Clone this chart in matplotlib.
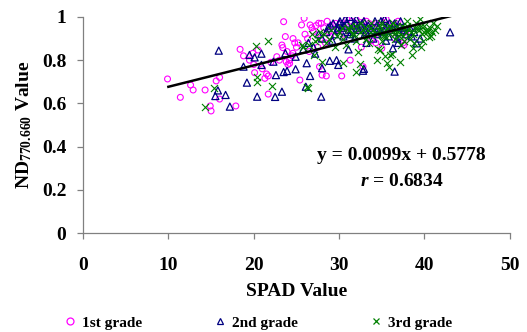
import matplotlib.pyplot as plt
from matplotlib.lines import Line2D

# SPAD (x) vs ND770.660 (y)
grade1_x = [9.9, 11.4, 12.6, 12.9, 14.3, 14.9, 15.0, 15.6, 16.0, 16.0, 17.9, 18.4, 18.8,
            19.9, 20.1, 20.5, 21.3, 21.5, 21.7, 21.7, 22.7, 23.3, 23.4, 23.5, 23.7, 23.8,
            24.2, 24.6, 24.6, 25.4, 25.6, 25.9, 26.6, 27.0, 27.6, 27.7, 28.0, 28.5, 30.3,
            31.3, 32.6, 32.6, 32.8, 35.2, 35.0, 37.6,
            28.2, 28.8, 29.3, 29.8, 30.2, 30.6, 31.0, 31.5, 32.0, 32.4, 33.0, 33.5, 34.0,
            34.6, 35.0, 35.5, 36.0, 36.6, 37.2, 37.8, 27.8, 28.4, 29.0, 26.8, 27.3, 26.0,
            25.2, 24.2, 24.0, 24.5, 22.0, 23.0, 19.5, 20.0, 21.0, 26.5, 27.5, 33.8, 34.3,
            36.5, 37.5, 27.9, 28.6, 29.6, 30.9, 31.9, 33.2, 34.4, 35.8, 36.9, 26.3, 25.0,
            23.9, 24.8]
grade1_y = [0.713, 0.628, 0.685, 0.662, 0.662, 0.588, 0.565, 0.704, 0.72, 0.62, 0.588, 0.85,
            0.82, 0.832, 0.742, 0.847, 0.716, 0.736, 0.727, 0.643, 0.816, 0.87, 0.858, 0.978,
            0.909, 0.793, 0.785, 0.832, 0.90, 0.708, 0.963, 0.994, 0.963, 0.932, 0.971, 0.77,
            0.731, 0.727, 0.727, 0.80, 1.0, 0.86, 0.77, 1.0, 0.855, 0.87,
            0.95, 0.93, 0.96, 0.94, 0.97, 0.92, 0.95, 0.98, 0.94, 0.96, 0.93, 0.97, 0.95,
            0.92, 0.96, 0.99, 0.94, 0.97, 0.95, 0.93, 0.90, 0.88, 0.91, 0.95, 0.96, 0.92,
            0.88, 0.80, 0.78, 0.82, 0.79, 0.80, 0.80, 0.78, 0.76, 0.84, 0.86, 0.89, 0.88,
            0.90, 0.88, 0.97, 0.98, 0.97, 0.99, 0.97, 0.98, 0.97, 0.96, 0.98, 0.90, 0.86,
            0.84, 0.88]

grade2_x = [15.9, 15.5, 15.8, 16.7, 17.2, 18.8, 19.2, 19.5, 20.1, 20.4, 20.9, 20.9, 22.3,
            22.6, 22.5, 23.3, 23.5, 23.7, 23.9, 24.9, 24.9, 26.2, 26.1, 26.6, 27.2, 27.9,
            28.0, 28.9, 29.7, 29.9, 31.1, 32.8, 36.5, 36.3, 39.1, 43.0,
            28.5, 29.0, 29.5, 30.0, 30.3, 30.7, 31.0, 31.2, 31.6, 32.0, 32.3, 32.7, 33.0,
            33.4, 33.8, 34.2, 34.6, 35.0, 35.3, 35.7, 36.1, 36.5, 37.0, 37.4, 37.8, 38.3,
            38.8, 39.2, 30.5, 31.8, 29.2, 34.0, 35.5, 36.8, 33.2, 28.0, 27.0, 25.8, 39.5,
            29.3, 29.8, 30.1, 30.6, 30.9, 31.4, 31.9, 32.5, 32.9, 33.6, 34.4, 34.9, 35.4,
            35.9, 36.7, 37.2, 28.7, 29.9, 31.3, 32.1, 33.1, 34.5, 35.8, 37.6, 38.5, 27.6,
            26.4, 36.9, 32.9]
grade2_y = [0.844, 0.634, 0.66, 0.639, 0.585, 0.77, 0.696, 0.824, 0.813, 0.631, 0.778, 0.83,
            0.793, 0.731, 0.63, 0.654, 0.745, 0.832, 0.75, 0.758, 0.816, 0.786, 0.677, 0.727,
            0.83, 0.631, 0.763, 0.797, 0.80, 0.778, 0.85, 0.751, 0.747, 0.855, 0.878, 0.929,
            0.93, 0.96, 0.92, 0.97, 0.95, 0.99, 0.93, 1.0, 0.96, 0.99, 0.94, 0.97, 0.92,
            0.96, 0.94, 0.98, 0.95, 0.93, 0.99, 0.96, 0.94, 0.97, 0.93, 0.95, 0.92, 0.95,
            0.93, 0.96, 0.91, 0.90, 0.89, 0.90, 0.89, 0.90, 0.88, 0.90, 0.86, 0.85, 0.90,
            0.97, 0.94, 0.98, 0.96, 0.97, 0.94, 0.97, 0.96, 0.98, 0.95, 0.96, 0.98, 0.95,
            0.97, 0.95, 0.98, 0.95, 0.95, 0.92, 0.95, 0.93, 0.92, 0.91, 0.94, 0.91, 0.92,
            0.88, 0.88, 0.76]

grade3_x = [14.3, 15.3, 20.3, 20.4, 20.4, 21.7, 22.1, 25.6, 26.2, 26.3, 27.0, 28.0, 30.5,
            32.0, 32.2, 32.4, 34.4, 34.8, 35.6, 35.8, 36.0, 37.1, 38.5, 38.6, 39.6, 40.5,
            30.0, 30.5, 31.0, 31.5, 32.0, 32.5, 33.0, 33.3, 33.7, 34.0, 34.4, 34.8, 35.2,
            35.6, 36.0, 36.3, 36.7, 37.0, 37.4, 37.8, 38.2, 38.6, 39.0, 39.3, 39.7, 40.0,
            40.3, 40.6, 41.0, 40.8, 39.5, 38.0, 36.5, 35.0, 33.5, 32.0, 30.8, 29.5, 28.5,
            27.5, 26.5, 25.8, 26.8, 27.2, 37.6, 38.8, 39.8, 41.2, 34.5, 35.4, 36.2, 37.3,
            31.2, 31.8, 32.8, 33.9, 34.7, 35.4, 36.1, 36.9, 37.7, 38.4, 39.1, 39.9, 40.4,
            31.4, 32.6, 33.6, 34.9, 35.9, 36.8, 37.9, 38.9, 39.6, 40.2, 28.2, 29.0, 29.8,
            30.3, 27.8, 28.8, 36.4, 37.5, 38.3, 35.1, 33.1, 40.9, 41.5]
grade3_y = [0.582, 0.67, 0.867, 0.72, 0.70, 0.89, 0.68, 0.87, 0.677, 0.67, 0.824, 0.79,
            0.786, 0.747, 0.84, 0.78, 0.80, 0.847, 0.786, 0.77, 0.824, 0.79, 0.824, 0.855,
            0.86, 0.906,
            0.93, 0.90, 0.95, 0.92, 0.96, 0.93, 0.95, 0.91, 0.97, 0.94, 0.92, 0.96, 0.93,
            0.95, 0.92, 0.97, 0.94, 0.91, 0.96, 0.93, 0.95, 0.92, 0.97, 0.94, 0.92, 0.96,
            0.93, 0.95, 0.97, 0.91, 0.99, 0.98, 0.90, 0.89, 0.88, 0.89, 0.87, 0.86, 0.88,
            0.90, 0.87, 0.86, 0.92, 0.89, 0.89, 0.88, 0.89, 0.94, 0.85, 0.82, 0.83, 0.87,
            0.94, 0.92, 0.94, 0.92, 0.94, 0.91, 0.95, 0.93, 0.95, 0.93, 0.95, 0.93, 0.94,
            0.96, 0.97, 0.95, 0.97, 0.96, 0.96, 0.96, 0.95, 0.96, 0.94, 0.92, 0.94, 0.91,
            0.95, 0.93, 0.90, 0.92, 0.91, 0.90, 0.91, 0.90, 0.93, 0.96]

slope, intercept = 0.0099, 0.5778
fit_x = [10, 43]
grade_labels = ["1st grade", "2nd grade", "3rd grade"]

plt.rcParams.update({
    "font.family": "Liberation Serif",
    "font.weight": "bold",
    "mathtext.fontset": "custom",
    "mathtext.rm": "Liberation Serif:bold",
    "mathtext.it": "Liberation Serif:italic:bold",
    "mathtext.bf": "Liberation Serif:bold",
})

fig = plt.figure(figsize=(5.27, 3.32), dpi=100)
ax = fig.add_axes([0.1575, 0.298, 0.810, 0.651])

ax.scatter(grade1_x, grade1_y, s=18, facecolors="none", edgecolors="#FF00FF",
           linewidths=0.8, marker="o", zorder=3)
ax.scatter(grade2_x, grade2_y, s=26, facecolors="none", edgecolors="#000080",
           linewidths=0.9, marker="^", zorder=3)
ax.scatter(grade3_x, grade3_y, s=26, color="#008000", linewidths=0.8, marker="x", zorder=3)
ax.plot(fit_x, [slope * x + intercept for x in fit_x], color="black", lw=1.8, zorder=4)

ax.set_xlim(0, 50)
ax.set_ylim(0, 1)
ax.set_xticks([0, 10, 20, 30, 40, 50])
ax.set_yticks([0, 0.2, 0.4, 0.6, 0.8, 1])
ax.set_yticklabels(["0", "0.2", "0.4", "0.6", "0.8", "1"])

for side in ("top", "right"):
    ax.spines[side].set_visible(False)
for side in ("left", "bottom"):
    ax.spines[side].set_color("#808080")
    ax.spines[side].set_linewidth(0.9)
ax.tick_params(axis="both", direction="out", length=4, width=0.9, color="#808080",
               labelsize=14)
ax.tick_params(axis="x", pad=13)
ax.tick_params(axis="y", pad=8)

ax.set_xlabel("SPAD Value", fontsize=14, fontweight="bold", labelpad=7)
ax.set_ylabel(r"ND$_{\mathit{770.660}}$ Value", fontsize=14, fontweight="bold", labelpad=6)

ax.text(0.746, 0.358, "y = 0.0099x + 0.5778", transform=ax.transAxes, ha="center",
        va="center", fontsize=14, fontweight="bold")
ax.text(0.746, 0.24, r"$\mathit{r}$ = 0.6834", transform=ax.transAxes, ha="center",
        va="center", fontsize=14, fontweight="bold")

handles = [
    Line2D([], [], ls="none", marker="o", mfc="none", mec="#FF00FF", ms=5, mew=0.9),
    Line2D([], [], ls="none", marker="^", mfc="none", mec="#000080", ms=5, mew=0.9),
    Line2D([], [], ls="none", marker="x", color="#008000", ms=5, mew=0.9),
]
fig.legend(handles, grade_labels, loc="center", bbox_to_anchor=(0.49, 0.028), ncol=3,
           frameon=False, fontsize=11, handlelength=0.8, handletextpad=0.4,
           columnspacing=4.7)

fig.savefig("out.png", dpi=100)
